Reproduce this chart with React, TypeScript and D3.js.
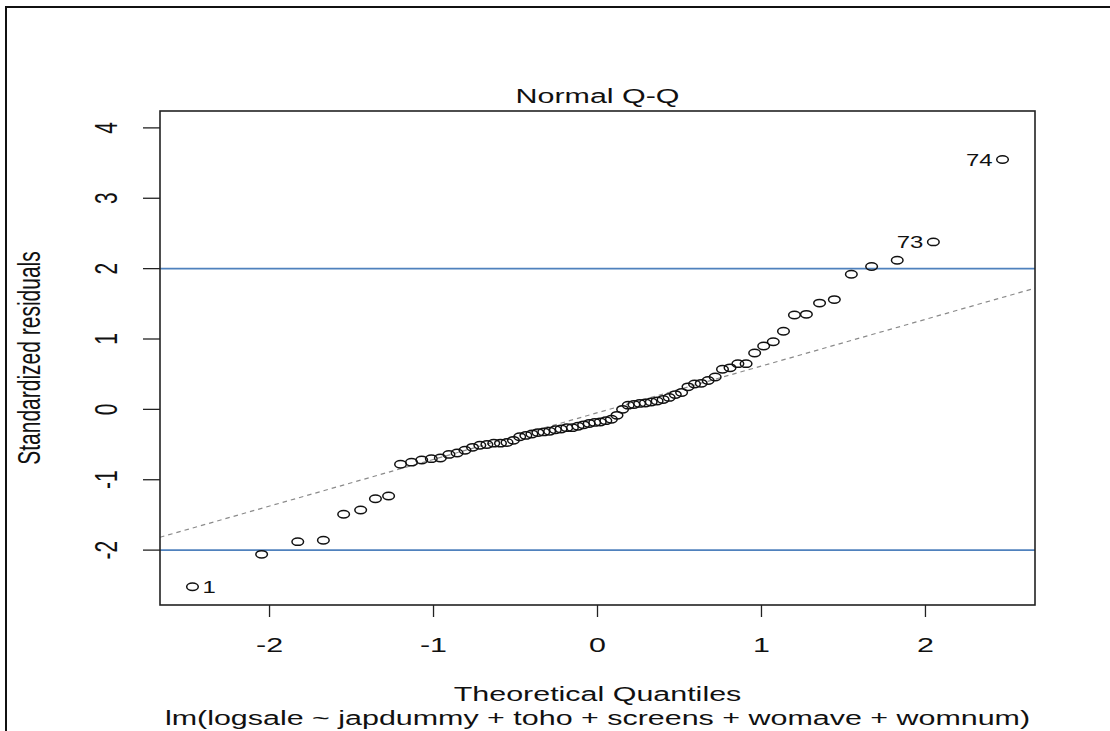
import React, { useRef, useEffect } from 'react';
import * as d3 from 'd3';

// sorted standardized residuals, n = 74
const residuals = [
  -2.52, -2.06, -1.88, -1.86, -1.49, -1.43, -1.27, -1.23, -0.78, -0.75,
  -0.72, -0.70, -0.69, -0.64, -0.62, -0.58, -0.54, -0.51, -0.50, -0.48,
  -0.48, -0.47, -0.44, -0.39, -0.37, -0.35, -0.33, -0.32, -0.31, -0.29,
  -0.28, -0.26, -0.26, -0.24, -0.22, -0.20, -0.185, -0.18, -0.16, -0.14,
  -0.085, 0.0, 0.06, 0.07, 0.085, 0.09, 0.105, 0.12, 0.14, 0.17,
  0.21, 0.24, 0.32, 0.36, 0.37, 0.41, 0.46, 0.57, 0.59, 0.65,
  0.65, 0.80, 0.90, 0.96, 1.11, 1.34, 1.35, 1.51, 1.56, 1.92,
  2.03, 2.12, 2.38, 3.55,
];

// observations R labels (rank in sorted order -> id)
const labelRanks = [1, 73, 74];
const labelIds = ['1', '73', '74'];

const xTicks = [-2, -1, 0, 1, 2];
const yTicks = [-2, -1, 0, 1, 2, 3, 4];
const hLines = [-2, 2];

const xDomain = [-2.668, 2.668];
const yDomain = [-2.78, 4.24];

const title = 'Normal Q-Q';
const xLabel = 'Theoretical Quantiles';
const subLabel = 'lm(logsale ~ japdummy + toho + screens + womave + womnum)';
const yLabel = 'Standardized residuals';

// inverse normal cdf (Acklam)
function qnorm(p: number) {
  const a = [-39.69683028665376, 220.9460984245205, -275.9285104469687, 138.357751867269, -30.66479806614716, 2.506628277459239];
  const b = [-54.47609879822406, 161.5858368580409, -155.6989798598866, 66.80131188771972, -13.28068155288572];
  const c = [-0.007784894002430293, -0.3223964580411365, -2.400758277161838, -2.549732539343734, 4.374664141464968, 2.938163982698783];
  const d = [0.007784695709041462, 0.3224671290700398, 2.445134137142996, 3.754408661907416];
  const pl = 0.02425;
  if (p < pl) {
    const q = Math.sqrt(-2 * Math.log(p));
    return (((((c[0] * q + c[1]) * q + c[2]) * q + c[3]) * q + c[4]) * q + c[5]) /
      ((((d[0] * q + d[1]) * q + d[2]) * q + d[3]) * q + 1);
  }
  if (p > 1 - pl) return -qnorm(1 - p);
  const q = p - 0.5;
  const r = q * q;
  return (((((a[0] * r + a[1]) * r + a[2]) * r + a[3]) * r + a[4]) * r + a[5]) * q /
    (((((b[0] * r + b[1]) * r + b[2]) * r + b[3]) * r + b[4]) * r + 1);
}

const SX = 1.45; // the picture is stretched horizontally
const FONT = '"Liberation Sans", Arial, sans-serif';

const QQPlot = ({ width, height }: { width: number; height: number }) => {
  const svgRef = useRef<SVGSVGElement>(null);

  useEffect(() => {
    const svg = d3.select(svgRef.current).attr('width', width).attr('height', height);
    svg.selectAll('*').remove();

    const left = 160, right = 1035, top = 111, bottom = 605;
    const x = d3.scaleLinear().domain(xDomain).range([left, right]);
    const y = d3.scaleLinear().domain(yDomain).range([bottom, top]);

    const n = residuals.length;
    const pts = residuals.map((r, i) => ({ q: qnorm((i + 1 - 0.5) / n), r }));

    const text = (tx: number, ty: number, str: string, size: number, anchor = 'middle', rot = false) => {
      svg.append('g')
        .attr('transform', `translate(${tx},${ty}) scale(${SX},1)${rot ? ' rotate(-90)' : ''}`)
        .append('text')
        .attr('text-anchor', anchor)
        .style('font-family', FONT)
        .style('font-size', `${size}px`)
        .attr('fill', '#111')
        .text(str);
    };

    // outer frame (cropped)
    svg.append('path').attr('d', `M6,${height} V7 H${width}`).attr('fill', 'none')
      .attr('stroke', '#111').attr('stroke-width', 2);

    // clip for lines inside plot
    svg.append('clipPath').attr('id', 'plotclip').append('rect')
      .attr('x', left).attr('y', top).attr('width', right - left).attr('height', bottom - top);

    // qqline through quartiles
    const yq1 = d3.quantile(residuals, 0.25) as number;
    const yq3 = d3.quantile(residuals, 0.75) as number;
    const xq1 = qnorm(0.25), xq3 = qnorm(0.75);
    const slope = (yq3 - yq1) / (xq3 - xq1);
    const icpt = yq1 - slope * xq1;
    svg.append('line')
      .attr('clip-path', 'url(#plotclip)')
      .attr('x1', x(xDomain[0])).attr('y1', y(icpt + slope * xDomain[0]))
      .attr('x2', x(xDomain[1])).attr('y2', y(icpt + slope * xDomain[1]))
      .attr('stroke', '#8a8a8a').attr('stroke-width', 1.2).attr('stroke-dasharray', '4.5,4');

    // +-2 reference lines
    svg.selectAll('hline').data(hLines).enter().append('line')
      .attr('x1', left).attr('x2', right)
      .attr('y1', (d) => y(d)).attr('y2', (d) => y(d))
      .attr('stroke', '#4f81bd').attr('stroke-width', 1.6);

    // points
    svg.selectAll('pt').data(pts).enter().append('ellipse')
      .attr('cx', (d) => x(d.q)).attr('cy', (d) => y(d.r))
      .attr('rx', 5.8).attr('ry', 3.7)
      .attr('fill', 'none').attr('stroke', '#111').attr('stroke-width', 1.5);

    // point labels
    labelRanks.forEach((rank, k) => {
      const p = pts[rank - 1];
      const px = x(p.q), py = y(p.r);
      const onLeft = p.q > 0;
      text(onLeft ? px - 10 : px + 10, py + 6, labelIds[k], 16.5, onLeft ? 'end' : 'start');
    });

    // box
    svg.append('rect').attr('x', left).attr('y', top).attr('width', right - left).attr('height', bottom - top)
      .attr('fill', 'none').attr('stroke', '#222').attr('stroke-width', 1.6);

    // x axis ticks
    svg.selectAll('xt').data(xTicks).enter().append('line')
      .attr('x1', (d) => x(d)).attr('x2', (d) => x(d))
      .attr('y1', bottom).attr('y2', bottom + 12)
      .attr('stroke', '#222').attr('stroke-width', 1.3);
    xTicks.forEach((t) => text(x(t), 652, String(t), 21));

    // y axis ticks
    svg.selectAll('yt').data(yTicks).enter().append('line')
      .attr('x1', left - 17).attr('x2', left)
      .attr('y1', (d) => y(d)).attr('y2', (d) => y(d))
      .attr('stroke', '#222').attr('stroke-width', 1.3);
    yTicks.forEach((t) => text(117, y(t), String(t), 21, 'middle', true));

    // titles
    text((left + right) / 2, 103, title, 21);
    text((left + right) / 2, 701, xLabel, 21);
    text((left + right) / 2, 725, subLabel, 21);
    text(40, (top + bottom) / 2, yLabel, 21, 'middle', true);
  }, [width, height]);

  return <svg ref={svgRef} style={{ position: 'absolute', left: 0, top: 0, background: '#fff' }}></svg>;
};

export default function App() {
  return <QQPlot width={1110} height={731} />;
}
